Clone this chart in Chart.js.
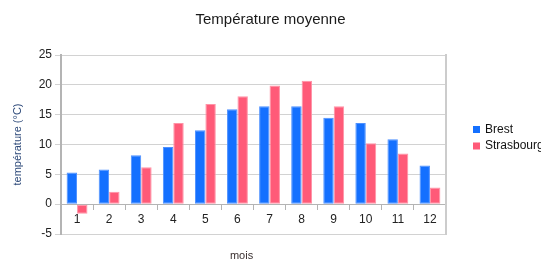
<!DOCTYPE html>
<html><head><meta charset="utf-8">
<script src="https://cdn.jsdelivr.net/npm/chart.js@4.4.0/dist/chart.umd.min.js"></script>
<style>html,body{margin:0;padding:0;background:#fff;overflow:hidden}</style>
</head><body>
<canvas id="c" width="541" height="262" style="display:block;width:541px;height:262px"></canvas>
<script>
const months = ['1','2','3','4','5','6','7','8','9','10','11','12'];
const brest = [5.3, 5.8, 8.2, 9.6, 12.4, 15.9, 16.4, 16.4, 14.5, 13.6, 10.9, 6.5];
const strasbourg = [-1.6, 2.1, 6.2, 13.6, 16.8, 18.1, 19.9, 20.7, 16.4, 10.2, 8.5, 2.8];
const yTicks = [-5, 0, 5, 10, 15, 20, 25];
const seriesNames = ['Brest', 'Strasbourg'];
const xTitle = 'mois';

const FONT = '"Liberation Sans", Arial, sans-serif';

const sideLegend = {
  id: 'sideLegend',
  afterDraw(chart) {
    const {ctx, chartArea} = chart;
    const mid = (chartArea.top + chartArea.bottom) / 2;
    ctx.save();
    ctx.font = '12px ' + FONT;
    ctx.textBaseline = 'middle';
    ctx.textAlign = 'left';
    chart.data.datasets.forEach((ds, i) => {
      const cy = mid - 15 + i * 16.5;
      ctx.fillStyle = ds.backgroundColor;
      ctx.fillRect(chartArea.right + 27, cy - 3.5, 7, 7);
      ctx.fillStyle = '#111';
      ctx.fillText(ds.label, chartArea.right + 39, cy);
    });
    // x axis title
    ctx.font = '11px ' + FONT;
    ctx.fillStyle = '#3a3030';
    ctx.textAlign = 'center';
    ctx.fillText(xTitle, chartArea.left + (chartArea.right - chartArea.left) * 0.469, chartArea.bottom + 21.5);
    ctx.restore();
  }
};

new Chart(document.getElementById('c'), {
  type: 'bar',
  data: {
    labels: months,
    datasets: [
      {label: seriesNames[0], data: brest, backgroundColor: '#1470ff', borderColor: '#4d90ff', borderWidth: 1, borderSkipped: false},
      {label: seriesNames[1], data: strasbourg, backgroundColor: '#ff5a78', borderColor: '#ff93a6', borderWidth: 1, borderSkipped: false}
    ]
  },
  options: {
    responsive: false,
    animation: false,
    devicePixelRatio: 1,
    layout: {padding: {left: 0, right: 0, top: 0, bottom: 28}},
    datasets: {bar: {categoryPercentage: 0.65, barPercentage: 1.0}},
    plugins: {
      legend: {display: false},
      tooltip: {enabled: false},
      title: {display: true, text: 'Température moyenne', color: '#1a1a1a',
        font: {family: FONT, size: 15, weight: 'normal'}, padding: {top: 10.5, bottom: 26.5}}
    },
    scales: {
      x: {
        type: 'category',
        position: {y: 0},
        offset: true,
        afterFit(s) { s.height = 0; },
        grid: {display: true, drawOnChartArea: false, drawTicks: true, tickLength: 5, color: '#b4b4b4', offset: true},
        border: {display: true, color: '#b4b4b4', width: 1},
        ticks: {color: '#222', font: {family: FONT, size: 12}, padding: 3, maxRotation: 0}
      },
      y: {
        type: 'linear',
        position: 'left',
        min: -5, max: 25,
        afterFit(s) { s.width = 61; },
        afterBuildTicks(s) { s.ticks = yTicks.map(v => ({value: v})); },
        grid: {color: '#d2d2d2', tickLength: 6, drawTicks: true},
        border: {display: true, color: '#b4b4b4', width: 2},
        ticks: {color: '#222', font: {family: FONT, size: 12}, padding: 3},
        title: {display: true, text: 'température (°C)', color: '#2e4a7a',
          font: {family: FONT, size: 11}, padding: {top: 11, bottom: 0}}
      },
      yr: {
        type: 'linear',
        position: 'right',
        afterFit(s) { s.width = 95; },
        grid: {display: false, drawOnChartArea: false, drawTicks: false},
        border: {display: true, color: '#cccccc', width: 2},
        ticks: {display: false}
      }
    }
  },
  plugins: [sideLegend]
});
</script>
</body></html>
